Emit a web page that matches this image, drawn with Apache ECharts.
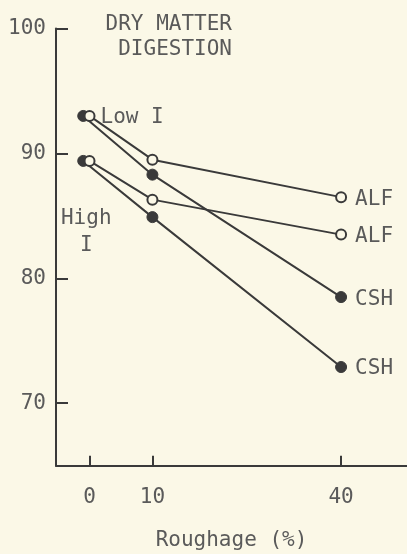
<!DOCTYPE html>
<html>
<head>
<meta charset="utf-8">
<script src="https://cdn.jsdelivr.net/npm/echarts@6/dist/echarts.min.js"></script>
<style>
html,body{margin:0;padding:0;background:#fbf8e7;}
#c{width:407px;height:554px;}
</style>
</head>
<body>
<div id="c"></div>
<script>
// Data
const alfX = [0, 10, 40];
const cshX = [-1, 10, 40];
const lowALF = [93.0, 89.5, 86.5];
const lowCSH = [93.0, 88.3, 78.5];
const highALF = [89.4, 86.3, 83.5];
const highCSH = [89.4, 84.9, 72.9];
const xTicks = [0, 10, 40];
const yTicks = [70, 80, 90, 100];
const titleLines = ['DRY MATTER', 'DIGESTION'];
const xName = 'Roughage (%)';

const FONT = 'DejaVu Sans Mono';
const INK = '#3a3a3a';
const TXT = '#5a5a5a';
const BG = '#fbf8e7';

function pts(xs, ys) { return xs.map((x, i) => [x, ys[i]]); }

function endLabel(text) {
  return { show: true, position: 'right', distance: 8, offset: [0, 2],
    formatter: text, fontFamily: FONT, fontSize: 21, color: TXT };
}

function mkData(xs, ys, endText, firstLabel) {
  return pts(xs, ys).map((p, i) => {
    const d = { value: p };
    if (i === xs.length - 1) d.label = endLabel(endText);
    if (i === 0 && firstLabel) d.label = firstLabel;
    return d;
  });
}

const openStyle = { color: BG, borderColor: INK, borderWidth: 2 };
const filledStyle = { color: INK, borderColor: INK, borderWidth: 1 };

function series(name, xs, ys, endText, filled, firstLabel) {
  return {
    name, type: 'line', data: mkData(xs, ys, endText, firstLabel),
    symbol: 'circle', symbolSize: filled ? 11 : 10, showSymbol: true,
    lineStyle: { color: INK, width: 2 },
    itemStyle: filled ? filledStyle : openStyle,
    label: { show: false },
    emphasis: { disabled: true },
    z: filled ? 2 : 3,
    animation: false
  };
}

const chart = echarts.init(document.getElementById('c'), null, { renderer: 'canvas' });
chart.setOption({
  backgroundColor: BG,
  animation: false,
  textStyle: { fontFamily: FONT },
  grid: { left: 56, right: 0, top: 28.5, bottom: 88.3, containLabel: false, outerBoundsMode: 'none' },
  xAxis: {
    type: 'value', min: -5.33, max: 50.48,
    splitLine: { show: false },
    axisLine: { show: true, onZero: false, lineStyle: { color: INK, width: 2 } },
    axisTick: { show: true, inside: true, length: 10, customValues: xTicks, lineStyle: { color: INK, width: 2 } },
    axisLabel: { customValues: xTicks, margin: 21, fontFamily: FONT, fontSize: 21, color: TXT },
    name: xName, nameLocation: 'middle', nameGap: 64,
    nameTextStyle: { fontFamily: FONT, fontSize: 21, color: TXT }
  },
  yAxis: {
    type: 'value', min: 65, max: 100,
    splitLine: { show: false },
    axisLine: { show: true, onZero: false, lineStyle: { color: INK, width: 2 } },
    axisTick: { show: true, inside: true, length: 12, customValues: yTicks, lineStyle: { color: INK, width: 2 } },
    axisLabel: { customValues: yTicks, margin: 10, verticalAlign: 'middle', padding: [8, 0, 0, 0], fontFamily: FONT, fontSize: 21, color: TXT }
  },
  graphic: [{
    type: 'text', x: 232, y: 12,
    style: { text: titleLines.join('\n'), align: 'right', verticalAlign: 'top',
      font: '21px "DejaVu Sans Mono"', fill: TXT, lineHeight: 25 }
  }],
  series: [
    series('Low CSH', cshX, lowCSH, 'CSH', true),
    series('High CSH', cshX, highCSH, 'CSH', true, {
      show: true, position: 'bottom', distance: 38, offset: [3, 0],
      formatter: 'High\nI', lineHeight: 27, align: 'center',
      fontFamily: FONT, fontSize: 21, color: TXT }),
    series('Low ALF', alfX, lowALF, 'ALF', false, {
      show: true, position: 'right', distance: 5, offset: [0, 2],
      formatter: 'Low I', fontFamily: FONT, fontSize: 21, color: TXT }),
    series('High ALF', alfX, highALF, 'ALF', false)
  ]
});
</script>
</body>
</html>
